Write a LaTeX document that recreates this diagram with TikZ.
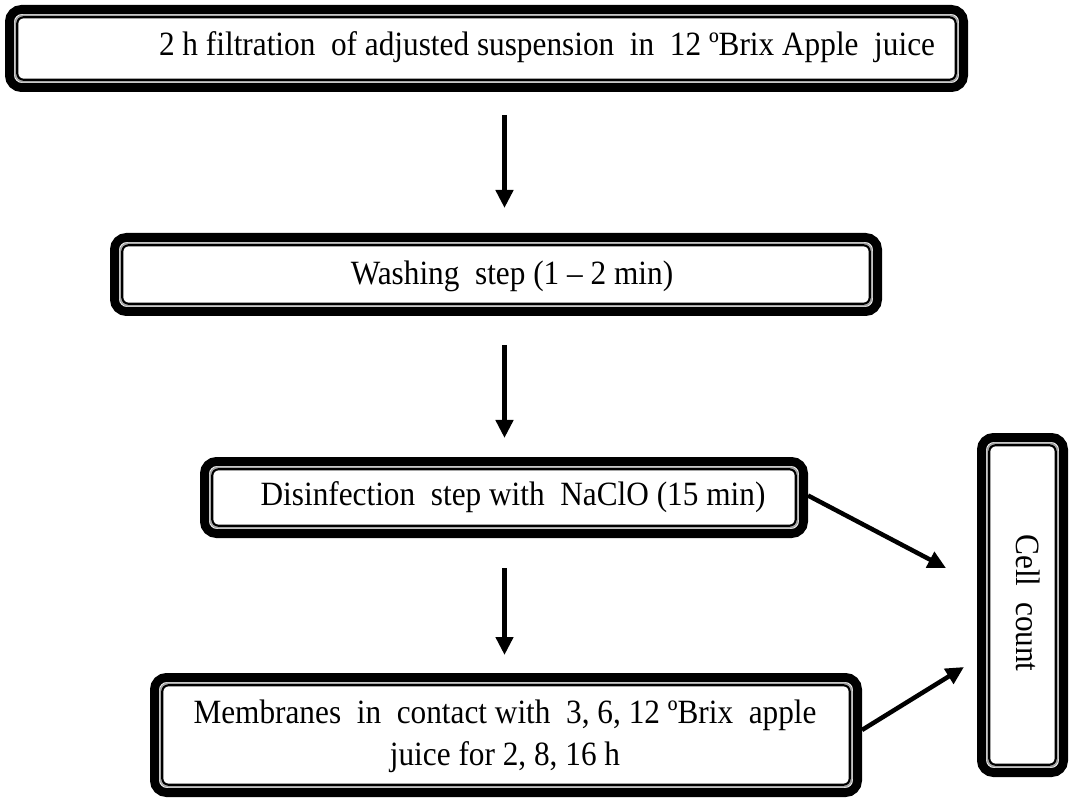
\documentclass[tikz,border=0pt]{standalone}
\usepackage{fontspec}
\setmainfont{Liberation Serif}[FakeStretch=0.92]
\usetikzlibrary{arrows.meta}
\tikzset{
  boxshape/.style={draw=none, inner sep=0pt, outer sep=0pt},
  txt/.style={inner sep=0pt, font=\fontsize{34}{42}\selectfont, align=center},
  arr/.style={line width=4.5pt, -{Triangle[length=18pt,width=17pt]}},
  outerframe/.style={line width=9pt, rounded corners=12pt},
  midframe/.style={line width=1.4pt, black!35, rounded corners=8pt},
  innerframe/.style={line width=2.2pt, rounded corners=6pt},
}
\newcommand\frameit[1]{%
  \draw[outerframe] ([shift={(4.5,4.5)}]#1.north west) rectangle ([shift={(-4.5,-4.5)}]#1.south east);
  \draw[midframe] ([shift={(10.2,10.2)}]#1.north west) rectangle ([shift={(-10.2,-10.2)}]#1.south east);
  \draw[innerframe] ([shift={(12.3,12.3)}]#1.north west) rectangle ([shift={(-12.3,-12.3)}]#1.south east);
}
\begin{document}
\begin{tikzpicture}[x=1pt,y=-1pt]
\useasboundingbox[fill=white] (0,0) rectangle (1071,799);
% boxes
\node[boxshape, minimum width=963pt, minimum height=87pt] (b1) at (486.5,48.5) {};
\node[boxshape, minimum width=772pt, minimum height=83pt] (b2) at (496,274.5) {};
\node[boxshape, minimum width=608pt, minimum height=81pt] (b3) at (504,497.5) {};
\node[boxshape, minimum width=712pt, minimum height=124pt] (b4) at (506,735) {};
\node[boxshape, minimum width=91pt, minimum height=344pt] (cell) at (1022.5,605) {};
\frameit{b1}\frameit{b2}\frameit{b3}\frameit{b4}\frameit{cell}
% texts
\node[txt] (t1) at (547,47) {2 h filtration\ \ of adjusted suspension\ \ in\ \ 12 ºBrix Apple\ \ juice};
\node[txt] (t2) at (512,276) {Washing\ \ step (1 – 2 min)};
\node[txt] (t3) at (513,497) {Disinfection\ \ step with\ \ NaClO (15 min)};
\node[txt] (t4) at (505,736) {Membranes\ \ in\ \ contact with\ \ 3, 6, 12 ºBrix\ \ apple\\juice for 2, 8, 16 h};
\node[txt, rotate=-90] (t5) at (1028,603) {Cell\ \ count};
% arrows
\coordinate (ax) at (504.5,0);
\draw[arr, shorten <=23pt, shorten >=25pt] (b1.south -| ax) -- (b2.north -| ax);
\draw[arr, shorten <=29pt, shorten >=19pt] (b2.south -| ax) -- (b3.north -| ax);
\draw[arr, shorten <=30pt, shorten >=18pt] (b3.south -| ax) -- (b4.north -| ax);
\coordinate (c1) at (946,568);
\coordinate (c2) at (964,667);
\draw[arr] ([yshift=2pt]b3.east) -- (c1);
\draw[arr] ([yshift=5pt]b4.east) -- (c2);
\end{tikzpicture}
\end{document}
